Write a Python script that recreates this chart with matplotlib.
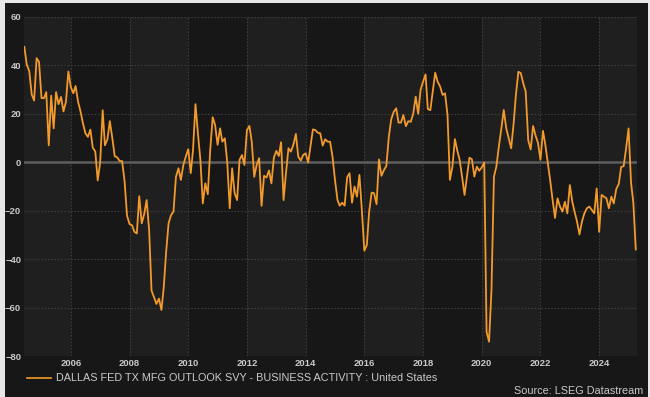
import numpy as np
import pandas as pd
import matplotlib
matplotlib.use("Agg")
import matplotlib.pyplot as plt
import matplotlib.dates as mdates
from matplotlib.patches import Rectangle

# monthly index, Jun 2004 .. Apr 2025
start_month = "2004-06-01"
business_activity = [
	47.7, 40.4, 37.7, 28.0, 25.5, 43.0, 41.5, 26.5, 26.5, 29.0,
	7.0, 27.5, 14.0, 29.0, 24.0, 27.0, 21.0, 25.0, 37.5, 31.0,
	28.5, 31.5, 25.0, 21.0, 16.0, 12.0, 10.5, 13.5, 6.0, 4.5,
	-7.5, 0.0, 21.5, 7.0, 9.5, 17.0, 10.0, 2.5, 2.0, 0.5,
	0.5, -8.0, -22.0, -25.5, -26.0, -28.7, -29.4, -14.0, -25.2, -21.5,
	-15.6, -28.0, -53.0, -55.7, -58.5, -56.3, -61.0, -52.0, -37.0, -25.2,
	-21.8, -20.4, -6.0, -2.5, -7.3, -1.1, 2.3, 5.4, -4.5, 5.0,
	24.0, 12.0, 1.0, -17.0, -8.7, -13.2, 5.0, 18.6, 15.4, 7.2,
	14.0, 8.5, 9.9, 0.0, -19.0, -2.5, -12.8, -15.6, 1.0, 3.0,
	-1.1, 13.3, 15.0, 8.5, -6.0, -1.1, 1.7, -18.0, -5.6, -6.3,
	-3.4, -8.7, 1.9, 4.7, 2.6, 8.3, -15.6, -4.5, 5.8, 4.4,
	7.2, 11.7, 2.3, 0.7, 3.0, 3.7, -0.1, 6.5, 13.6, 13.3,
	12.2, 12.0, 6.9, 9.5, 8.5, 8.5, 2.3, -7.3, -15.6, -17.9,
	-16.7, -17.9, -6.2, -4.5, -16.7, -10.0, -14.2, -5.2, -19.7, -36.5,
	-34.2, -20.4, -12.5, -12.8, -17.3, 1.2, -5.6, -3.2, -1.5, 10.6,
	17.8, 20.9, 22.3, 16.4, 16.4, 19.5, 14.9, 17.0, 16.7, 20.2,
	27.1, 20.0, 29.9, 33.3, 36.3, 22.0, 21.5, 29.0, 37.0, 33.3,
	31.3, 27.8, 28.5, 19.5, -7.3, -1.8, 9.6, 5.1, 1.0, -5.9,
	-13.5, -5.9, 1.9, 1.2, -5.9, -1.8, -3.5, -2.1, -0.1, -70.0,
	-74.1, -52.8, -5.9, -1.8, 6.5, 14.0, 21.6, 14.0, 9.9, 5.8,
	16.1, 27.8, 37.4, 36.8, 32.6, 29.2, 9.2, 5.3, 15.0, 11.0,
	8.0, 1.0, 13.0, 7.5, 0.0, -7.3, -15.6, -23.0, -14.9, -18.3,
	-20.4, -16.3, -21.1, -9.4, -16.3, -20.4, -24.5, -29.8, -24.5, -21.1,
	-19.0, -18.3, -19.7, -21.1, -10.8, -28.7, -13.5, -14.2, -14.9, -19.0,
	-14.2, -17.0, -11.0, -9.0, -1.9, -1.6, 5.7, 14.0, -8.5, -16.5,
	-36.0,
]
y_ticks = [-80, -60, -40, -20, 0, 20, 40, 60]
x_tick_years = list(range(2006, 2025, 2))
legend_text = "DALLAS FED TX MFG OUTLOOK SVY - BUSINESS ACTIVITY : United States"
source_text = "Source: LSEG Datastream"

bg_dark = "#171717"
bg_light = "#1f1f1f"
line_col = "#f29a2b"
text_col = "#c9c9c9"

matplotlib.rc('font', family=['Liberation Sans', 'DejaVu Sans'])

dates = pd.date_range(start_month, periods=len(business_activity), freq="MS")

fig = plt.figure(figsize=(6.5, 3.97), dpi=100)
fig.patch.set_facecolor("#e6e6e6")
# dark panel inside the thin light frame
fig.patches.append(Rectangle((5/650, 0), 643/650, 394/397, transform=fig.transFigure,
	facecolor=bg_dark, edgecolor="none", zorder=-5))

ax = fig.add_axes([24/650, 41/397, 613/650, 339/397])
ax.set_facecolor(bg_dark)
ax.set_zorder(1)

x0 = pd.Timestamp("2004-05-28")
x1 = pd.Timestamp("2025-04-16")

# alternating two-year bands
edges = [x0] + [pd.Timestamp("%d-01-01" % y) for y in range(2006, 2026, 2)] + [x1]
for k in range(len(edges)-1):
	if k % 2 == 0:
		ax.axvspan(edges[k], edges[k+1], color=bg_light, lw=0, zorder=0)

for y in y_ticks:
	if y != 0:
		ax.axhline(y, color="#3c3c3c", lw=0.8, ls=(0, (1.5, 1.5)), zorder=1)
for yr in x_tick_years:
	ax.axvline(pd.Timestamp("%d-01-01" % yr), color="#3c3c3c", lw=0.8, ls=(0, (1.5, 1.5)), zorder=1)
ax.axhline(0, color="#5e5e5e", lw=1.8, zorder=2)

ax.plot(dates, business_activity, color=line_col, lw=1.3, zorder=3)

ax.set_xlim(x0, x1)
ax.set_ylim(-80, 60)
ax.set_yticks(y_ticks)
ax.set_xticks([pd.Timestamp("%d-01-01" % yr) for yr in x_tick_years])
ax.xaxis.set_major_formatter(mdates.DateFormatter("%Y"))
ax.tick_params(axis="both", length=0, colors=text_col, labelsize=6.8, pad=2)
for lab in ax.get_xticklabels() + ax.get_yticklabels():
	lab.set_fontweight("bold")
for s in ax.spines.values():
	s.set_visible(False)

# legend line and text under the chart
fig.lines.append(matplotlib.lines.Line2D([27/650, 51/650], [1-378/397, 1-378/397],
	transform=fig.transFigure, color=line_col, lw=1.2))
fig.text(56/650, 1-378/397, legend_text, color=text_col, fontsize=7.8, va="center", ha="left")
fig.text(643/650, 1-391/397, source_text, color=text_col, fontsize=7.8, va="center", ha="right")

fig.savefig("out.png", dpi=100, facecolor=fig.get_facecolor())
